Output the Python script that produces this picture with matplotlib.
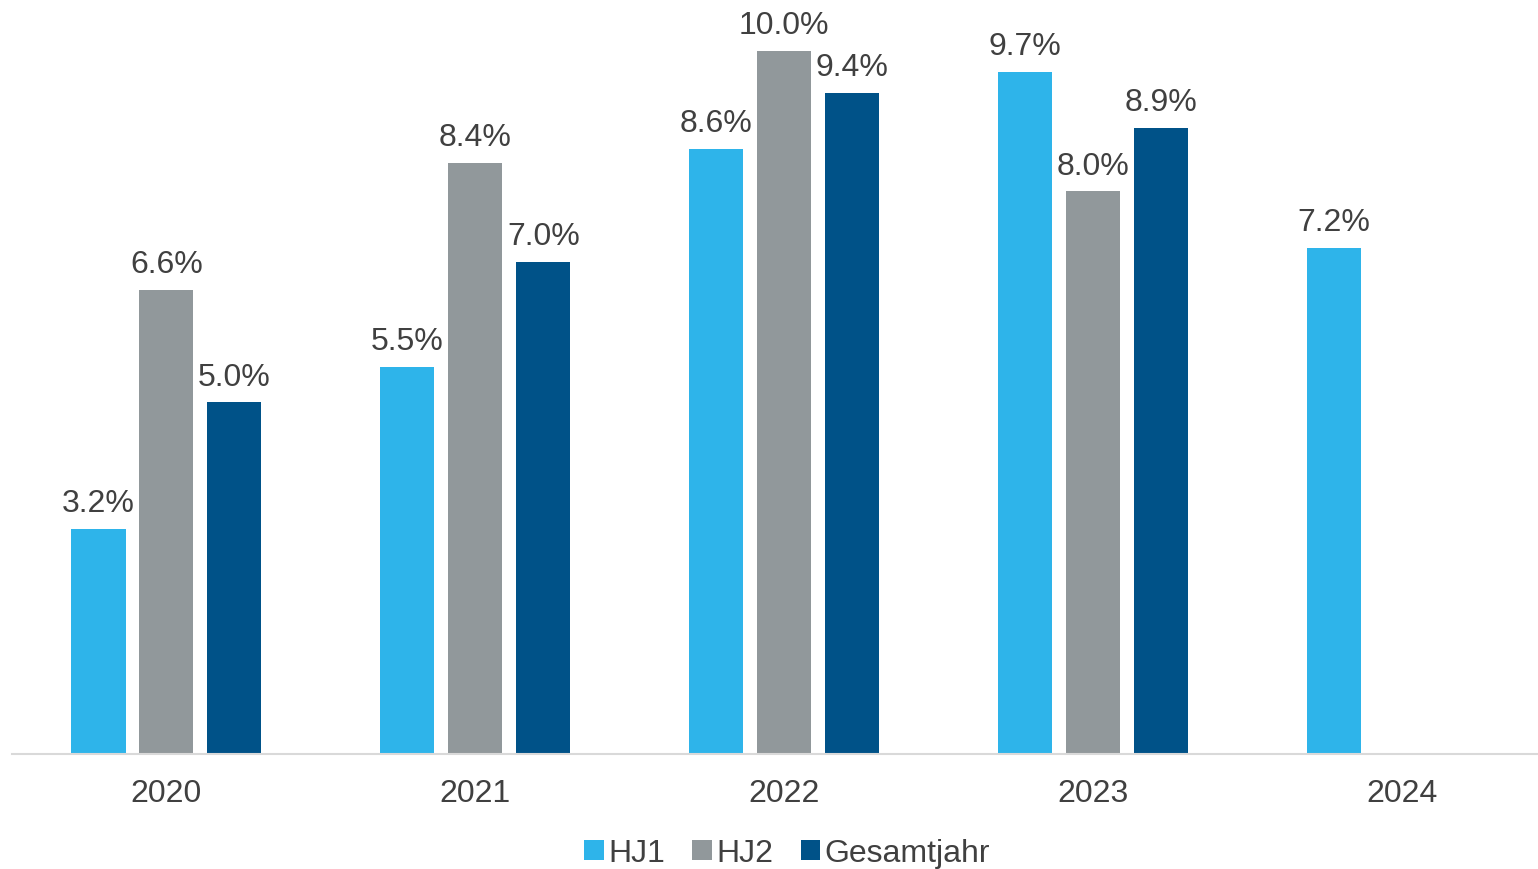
import numpy as np
import matplotlib.pyplot as plt

plt.rcParams['font.family'] = ['Liberation Sans', 'DejaVu Sans']

years = ["2020", "2021", "2022", "2023", "2024"]
hj1 = [3.2, 5.5, 8.6, 9.7, 7.2]
hj2 = [6.6, 8.4, 10.0, 8.0, None]
gesamt = [5.0, 7.0, 9.4, 8.9, None]

series = [("HJ1", hj1, "#2EB4EA"), ("HJ2", hj2, "#91989B"), ("Gesamtjahr", gesamt, "#005288")]

fig = plt.figure(figsize=(15.38, 8.69), dpi=100)
ax = fig.add_axes([0.0078, 0.1323, 0.9922, 0.8677])

x = np.arange(len(years))
w = 0.175
off = 0.22
txt = "#404040"
for i, (name, vals, col) in enumerate(series):
    xs = [xi + (i - 1) * off for xi, v in zip(x, vals) if v is not None]
    vs = [v for v in vals if v is not None]
    bars = ax.bar(xs, vs, width=w, color=col, label=name)
    for b, v in zip(bars, vs):
        ax.annotate(f"{v:.1f}%", (b.get_x() + b.get_width() / 2, v),
                    xytext=(0, 7), textcoords="offset points",
                    ha="center", va="bottom", fontsize=23, color=txt)

ax.set_xlim(-0.5, 4.44)
ax.set_ylim(0, 10.72)
ax.set_xticks(x)
ax.set_xticklabels(years, fontsize=23, color=txt)
ax.tick_params(axis="x", length=0, pad=18)
ax.set_yticks([])
for s in ["top", "right", "left"]:
    ax.spines[s].set_visible(False)
ax.spines["bottom"].set_color("#D9D9D9")
ax.spines["bottom"].set_linewidth(1.5)

leg = ax.legend(loc="lower center", bbox_to_anchor=(0.508, -0.19), ncol=3, frameon=False,
                fontsize=23, handlelength=0.6, handleheight=0.6, handletextpad=0.15,
                columnspacing=0.85)
for t in leg.get_texts():
    t.set_color(txt)

fig.savefig("out.png", dpi=100)
